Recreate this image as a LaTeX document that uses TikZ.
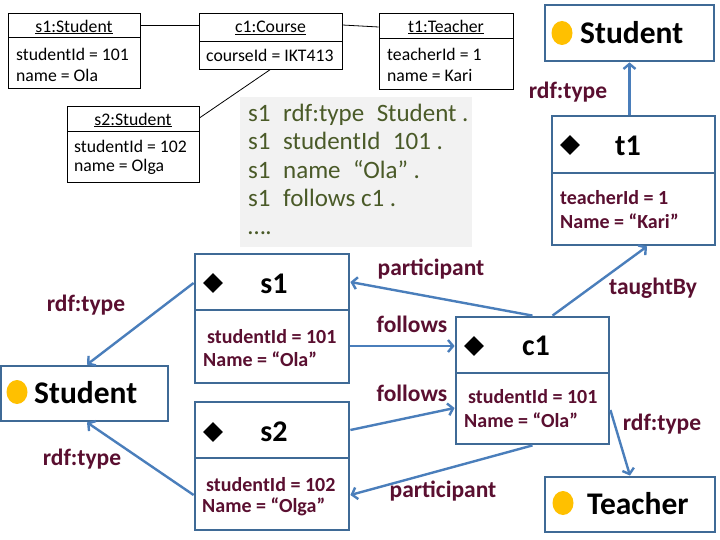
\documentclass[tikz,border=0pt]{standalone}
\usepackage{fontspec}
\setmainfont{Carlito}
\usetikzlibrary{arrows.meta,shapes.geometric,calc}
\definecolor{boxb}{HTML}{3F6A96}
\definecolor{arrc}{HTML}{4A7EBB}
\definecolor{maroonc}{HTML}{5A0F30}
\definecolor{olivec}{HTML}{4A5A28}
\definecolor{orangedot}{HTML}{FFC000}
\definecolor{graybg}{HTML}{F2F2F2}
\begin{document}
\begin{tikzpicture}[x=1pt,y=-1pt,
 uml/.style={draw=black, line width=0.8pt, inner sep=0pt},
 umltxt/.style={font=\fontsize{17.7}{20}\selectfont, inner sep=0pt, anchor=west},
 umltitle/.style={font=\fontsize{17.7}{20}\selectfont, inner sep=0pt},
 rbox/.style={draw=boxb, line width=2.8pt, inner sep=0pt},
 sepline/.style={draw=boxb, line width=2.8pt},
 rarrow/.style={draw=arrc, line width=2.4pt, -{Straight Barb[length=5pt,width=12pt]}},
 lbl/.style={font=\bfseries\fontsize{23.5}{26}\selectfont, text=maroonc, inner sep=0pt},
 attr/.style={font=\bfseries\fontsize{20}{22.5}\selectfont, text=maroonc, inner sep=0pt, anchor=west},
 ttl/.style={font=\bfseries\fontsize{30}{32}\selectfont, inner sep=0pt},
 cls/.style={font=\bfseries\fontsize{31.5}{33}\selectfont, inner sep=0pt, anchor=west},
 gtxt/.style={font=\fontsize{25}{28}\selectfont, text=olivec, inner sep=0pt, anchor=base west},
 dia/.style={diamond, fill=black, minimum size=20pt, inner sep=0pt},
]
\useasboundingbox (0,0) rectangle (720,540);
\fill[white] (0,0) rectangle (720,540);

% ---------- UML object diagram ----------
\node[uml, minimum width=132pt, minimum height=75pt] (s1u) at (74,50.5) {};
\draw[line width=0.8pt] (8,37) -- (140,37);
\node[umltitle] (s1ut) at (74,27) {\underline{s1:Student}};
\node[umltxt] (s1ua) at (16,54) {studentId = 101};
\node[umltxt] (s1ub) at (16,75) {name = Ola};

\node[uml, minimum width=143pt, minimum height=56pt] (c1u) at (270.5,41) {};
\draw[line width=0.8pt] (199,41) -- (342,41);
\node[umltitle] (c1ut) at (270.5,28) {\underline{c1:Course}};
\node[umltxt] (c1ua) at (206,55) {courseId = IKT413};

\node[uml, minimum width=134pt, minimum height=76pt] (t1u) at (446,51) {};
\draw[line width=0.8pt] (379,38) -- (513,38);
\node[umltitle] (t1ut) at (446,27) {\underline{t1:Teacher}};
\node[umltxt] (t1ua) at (387,54) {teacherId = 1};
\node[umltxt] (t1ub) at (387,75) {name = Kari};

\node[uml, minimum width=132pt, minimum height=76pt] (s2u) at (133,144) {};
\draw[line width=0.8pt] (67,131) -- (199,131);
\node[umltitle] (s2ut) at (133,120) {\underline{s2:Student}};
\node[umltxt] (s2ua) at (74,146) {studentId = 102};
\node[umltxt] (s2ub) at (74,167) {name = Olga};

\draw[line width=0.8pt] ([yshift=25.5pt]s1u.east) -- ([yshift=16pt]c1u.west);
\draw[line width=0.8pt] ([yshift=16pt]c1u.east) -- ([yshift=24pt]t1u.west);
\draw[line width=0.8pt] (c1u.south) -- ([yshift=26pt]s2u.east);

% ---------- triples ----------
\fill[graybg] (240,97) rectangle (472,247);
\node[gtxt] (g1) at (248,122) {s1\enspace rdf:type\enspace Student .};
\node[gtxt] (g2) at (248,150) {s1\enspace studentId\enspace 101 .};
\node[gtxt] (g3) at (248,179) {s1\enspace name\enspace “Ola” .};
\node[gtxt] (g4) at (248,207) {s1\enspace follows c1 .};
\node[gtxt] (g5) at (248,234) {….};

% ---------- RDF nodes ----------
\node[rbox, minimum width=169pt, minimum height=56pt] (StudentR) at (629.5,33) {};
\fill[orangedot] (562,33) ellipse [x radius=10.5, y radius=12];
\node[cls] (StudentRt) at (580,33) {Student};

\node[rbox, minimum width=163pt, minimum height=129pt] (t1) at (633.5,180.5) {};
\draw[sepline] (552,173) -- (715,173);
\node[dia] (t1d) at (570,145) {};
\node[ttl] (t1t) at (628,146) {t1};
\node[attr] (t1a) at (560,198) {teacherId = 1};
\node[attr] (t1b) at (560,221) {Name = “Kari”};

\node[rbox, minimum width=154pt, minimum height=129pt] (s1) at (272,318.5) {};
\draw[sepline] (195,310) -- (349,310);
\node[dia] (s1d) at (213,283) {};
\node[ttl] (s1t) at (274,284) {s1};
\node[attr] (s1a) at (207,337) {studentId = 101};
\node[attr] (s1b) at (203,359) {Name = “Ola”};

\node[rbox, minimum width=154pt, minimum height=128pt] (s2) at (272,466) {};
\draw[sepline] (195,458) -- (349,458);
\node[dia] (s2d) at (213,432) {};
\node[ttl] (s2t) at (274,432) {s2};
\node[attr] (s2a) at (206,485) {studentId = 102};
\node[attr] (s2b) at (202,507) {Name = “Olga”};

\node[rbox, minimum width=153pt, minimum height=127pt] (c1) at (532.5,380.5) {};
\draw[sepline] (456,373) -- (609,373);
\node[dia] (c1d) at (474,346) {};
\node[ttl] (c1t) at (536,346) {c1};
\node[attr] (c1a) at (468,397) {studentId = 101};
\node[attr] (c1b) at (464,420) {Name = “Ola”};

\node[rbox, minimum width=167pt, minimum height=55pt] (StudentL) at (84.5,393.5) {};
\fill[orangedot] (17,392) ellipse [x radius=10.5, y radius=12];
\node[cls] (StudentLt) at (34,393) {Student};

\node[rbox, minimum width=170pt, minimum height=55pt] (Teacher) at (630,504.5) {};
\fill[orangedot] (563,503) ellipse [x radius=10.5, y radius=12];
\node[cls] (Teachert) at (587,504) {Teacher};

% ---------- arrows ----------
\draw[rarrow] (StudentR.south |- t1.north) -- (StudentR.south);
\draw[rarrow] (c1.north) -- ([yshift=36.5pt]s1.east);
\draw[rarrow] ([yshift=-27.5pt]s1.east) -- ([yshift=34.5pt]c1.west);
\draw[rarrow] ([yshift=36pt]s2.east) -- ([yshift=-27.5pt]c1.west);
\draw[rarrow] (c1.south) -- ([yshift=-29pt]s2.east);
\draw[rarrow] ([xshift=20pt]c1.north) -- ([xshift=13.5pt]t1.south);
\draw[rarrow] ([yshift=-29.5pt]c1.east) -- (Teacher.north);
\draw[rarrow] ([yshift=35.5pt]s1.west) -- ([xshift=2.5pt]StudentL.north);
\draw[rarrow] ([yshift=-29pt]s2.west) -- ([xshift=2.5pt]StudentL.south);

% ---------- labels ----------
\node[lbl] (l1) at (568,92) {rdf:type};
\node[lbl] (l2) at (86,305) {rdf:type};
\node[lbl] (l3) at (82,459) {rdf:type};
\node[lbl] (l4) at (431,269) {participant};
\node[lbl] (l5) at (412,324) {follows};
\node[lbl] (l6) at (412,393) {follows};
\node[lbl] (l7) at (443,491) {participant};
\node[lbl] (l8) at (653,288) {taughtBy};
\node[lbl] (l9) at (662,424) {rdf:type};
\end{tikzpicture}
\end{document}
